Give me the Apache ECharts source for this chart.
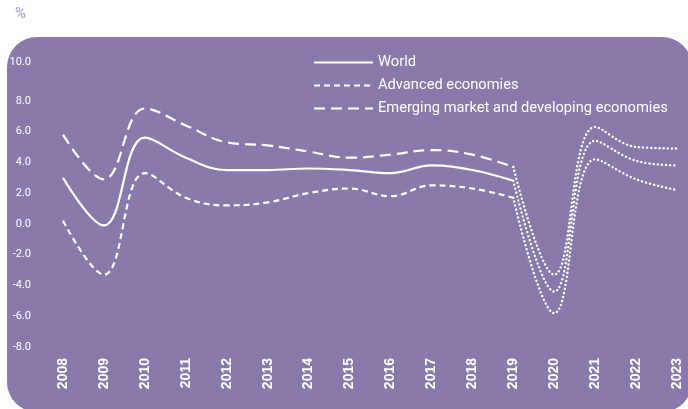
<!DOCTYPE html>
<html>
<head>
<meta charset="utf-8">
<script src="https://cdn.jsdelivr.net/npm/echarts@6/dist/echarts.min.js"></script>
<style>
html,body{margin:0;padding:0;background:#ffffff;}
#chart{width:688px;height:409px;}
</style>
</head>
<body>
<div id="chart"></div>
<script>
const years = ['2008','2009','2010','2011','2012','2013','2014','2015','2016','2017','2018','2019','2020','2021','2022','2023'];
const world    = [3.0, -0.1, 5.6, 4.3, 3.5, 3.5, 3.6, 3.5, 3.3, 3.8, 3.5, 2.8, -4.4, 5.4, 4.1, 3.8];
const advanced = [0.2, -3.3, 3.3, 1.7, 1.2, 1.4, 2.0, 2.3, 1.8, 2.5, 2.3, 1.7, -5.8, 4.2, 2.9, 2.2];
const emerging = [5.8, 2.9, 7.5, 6.4, 5.3, 5.1, 4.7, 4.3, 4.5, 4.8, 4.5, 3.7, -3.3, 6.3, 5.0, 4.9];
const forecastStart = 11; // index of 2019: dotted from here on
const seriesNames = ['World', 'Advanced economies', 'Emerging market and developing economies'];

function actual(arr){ return arr.map((v,i)=> i<=forecastStart ? v : null); }
function forecast(arr){ return arr.map((v,i)=> i>=forecastStart ? v : null); }

const chart = echarts.init(document.getElementById('chart'));
const white = '#ffffff';
const SM = 0.4;
const dotted = {color: white, width: 2.4, type: [0.1, 4], cap: 'round'};

const option = {
  animation: false,
  backgroundColor: 'transparent',
  graphic: [{
    type: 'rect', z: -10, silent: true,
    shape: {x: 7, y: 37, width: 685, height: 375, r: 30},
    style: {fill: '#8a7aab'}
  }],
  title: {
    text: '%', left: 15, top: 7, padding: 0,
    textStyle: {color: '#b9a8d6', fontSize: 15, fontWeight: 'bold', fontFamily: 'Roboto'}
  },
  legend: {
    orient: 'vertical', left: 313, top: 55, padding: 0,
    itemWidth: 59, itemHeight: 14, itemGap: 8,
    data: seriesNames,
    itemStyle: {opacity: 0},
    textStyle: {color: white, fontSize: 14.7, fontFamily: 'Roboto'}
  },
  grid: {left: 63, right: 11, top: 70, bottom: 62, containLabel: false},
  xAxis: {
    type: 'category', data: years, boundaryGap: false,
    axisLine: {show: false}, axisTick: {show: false}, splitLine: {show: false},
    axisLabel: {
      rotate: 90, margin: 11, color: white, fontSize: 14, fontWeight: 'bold',
      fontFamily: 'Liberation Sans', interval: 0
    }
  },
  yAxis: {
    type: 'value', min: -8, max: 10, interval: 2,
    axisLine: {show: false}, axisTick: {show: false}, splitLine: {show: false},
    axisLabel: {
      margin: 32, color: white, fontSize: 11, fontFamily: 'Roboto',
      formatter: v => v === 10 ? '{t|10.0}' : v.toFixed(1),
      rich: {t: {color: white, fontSize: 11, fontFamily: 'Roboto', padding: [0, 0, 16, 0]}}
    }
  },
  series: [
    {name: seriesNames[0], type: 'line', data: actual(world), smooth: SM, showSymbol: false, symbol: 'none',
     lineStyle: {color: white, width: 2.2, type: 'solid'}, itemStyle: {color: white}},
    {name: seriesNames[1], type: 'line', data: actual(advanced), smooth: SM, showSymbol: false, symbol: 'none',
     lineStyle: {color: white, width: 2.2, type: [6, 4]}, itemStyle: {color: white}},
    {name: seriesNames[2], type: 'line', data: actual(emerging), smooth: SM, showSymbol: false, symbol: 'none',
     lineStyle: {color: white, width: 2.2, type: [11, 6]}, itemStyle: {color: white}},
    {name: 'World (projection)', type: 'line', data: forecast(world), smooth: SM, showSymbol: false, symbol: 'none', lineStyle: dotted},
    {name: 'Advanced (projection)', type: 'line', data: forecast(advanced), smooth: SM, showSymbol: false, symbol: 'none', lineStyle: dotted},
    {name: 'Emerging (projection)', type: 'line', data: forecast(emerging), smooth: SM, showSymbol: false, symbol: 'none', lineStyle: dotted}
  ]
};
chart.setOption(option);
</script>
</body>
</html>
